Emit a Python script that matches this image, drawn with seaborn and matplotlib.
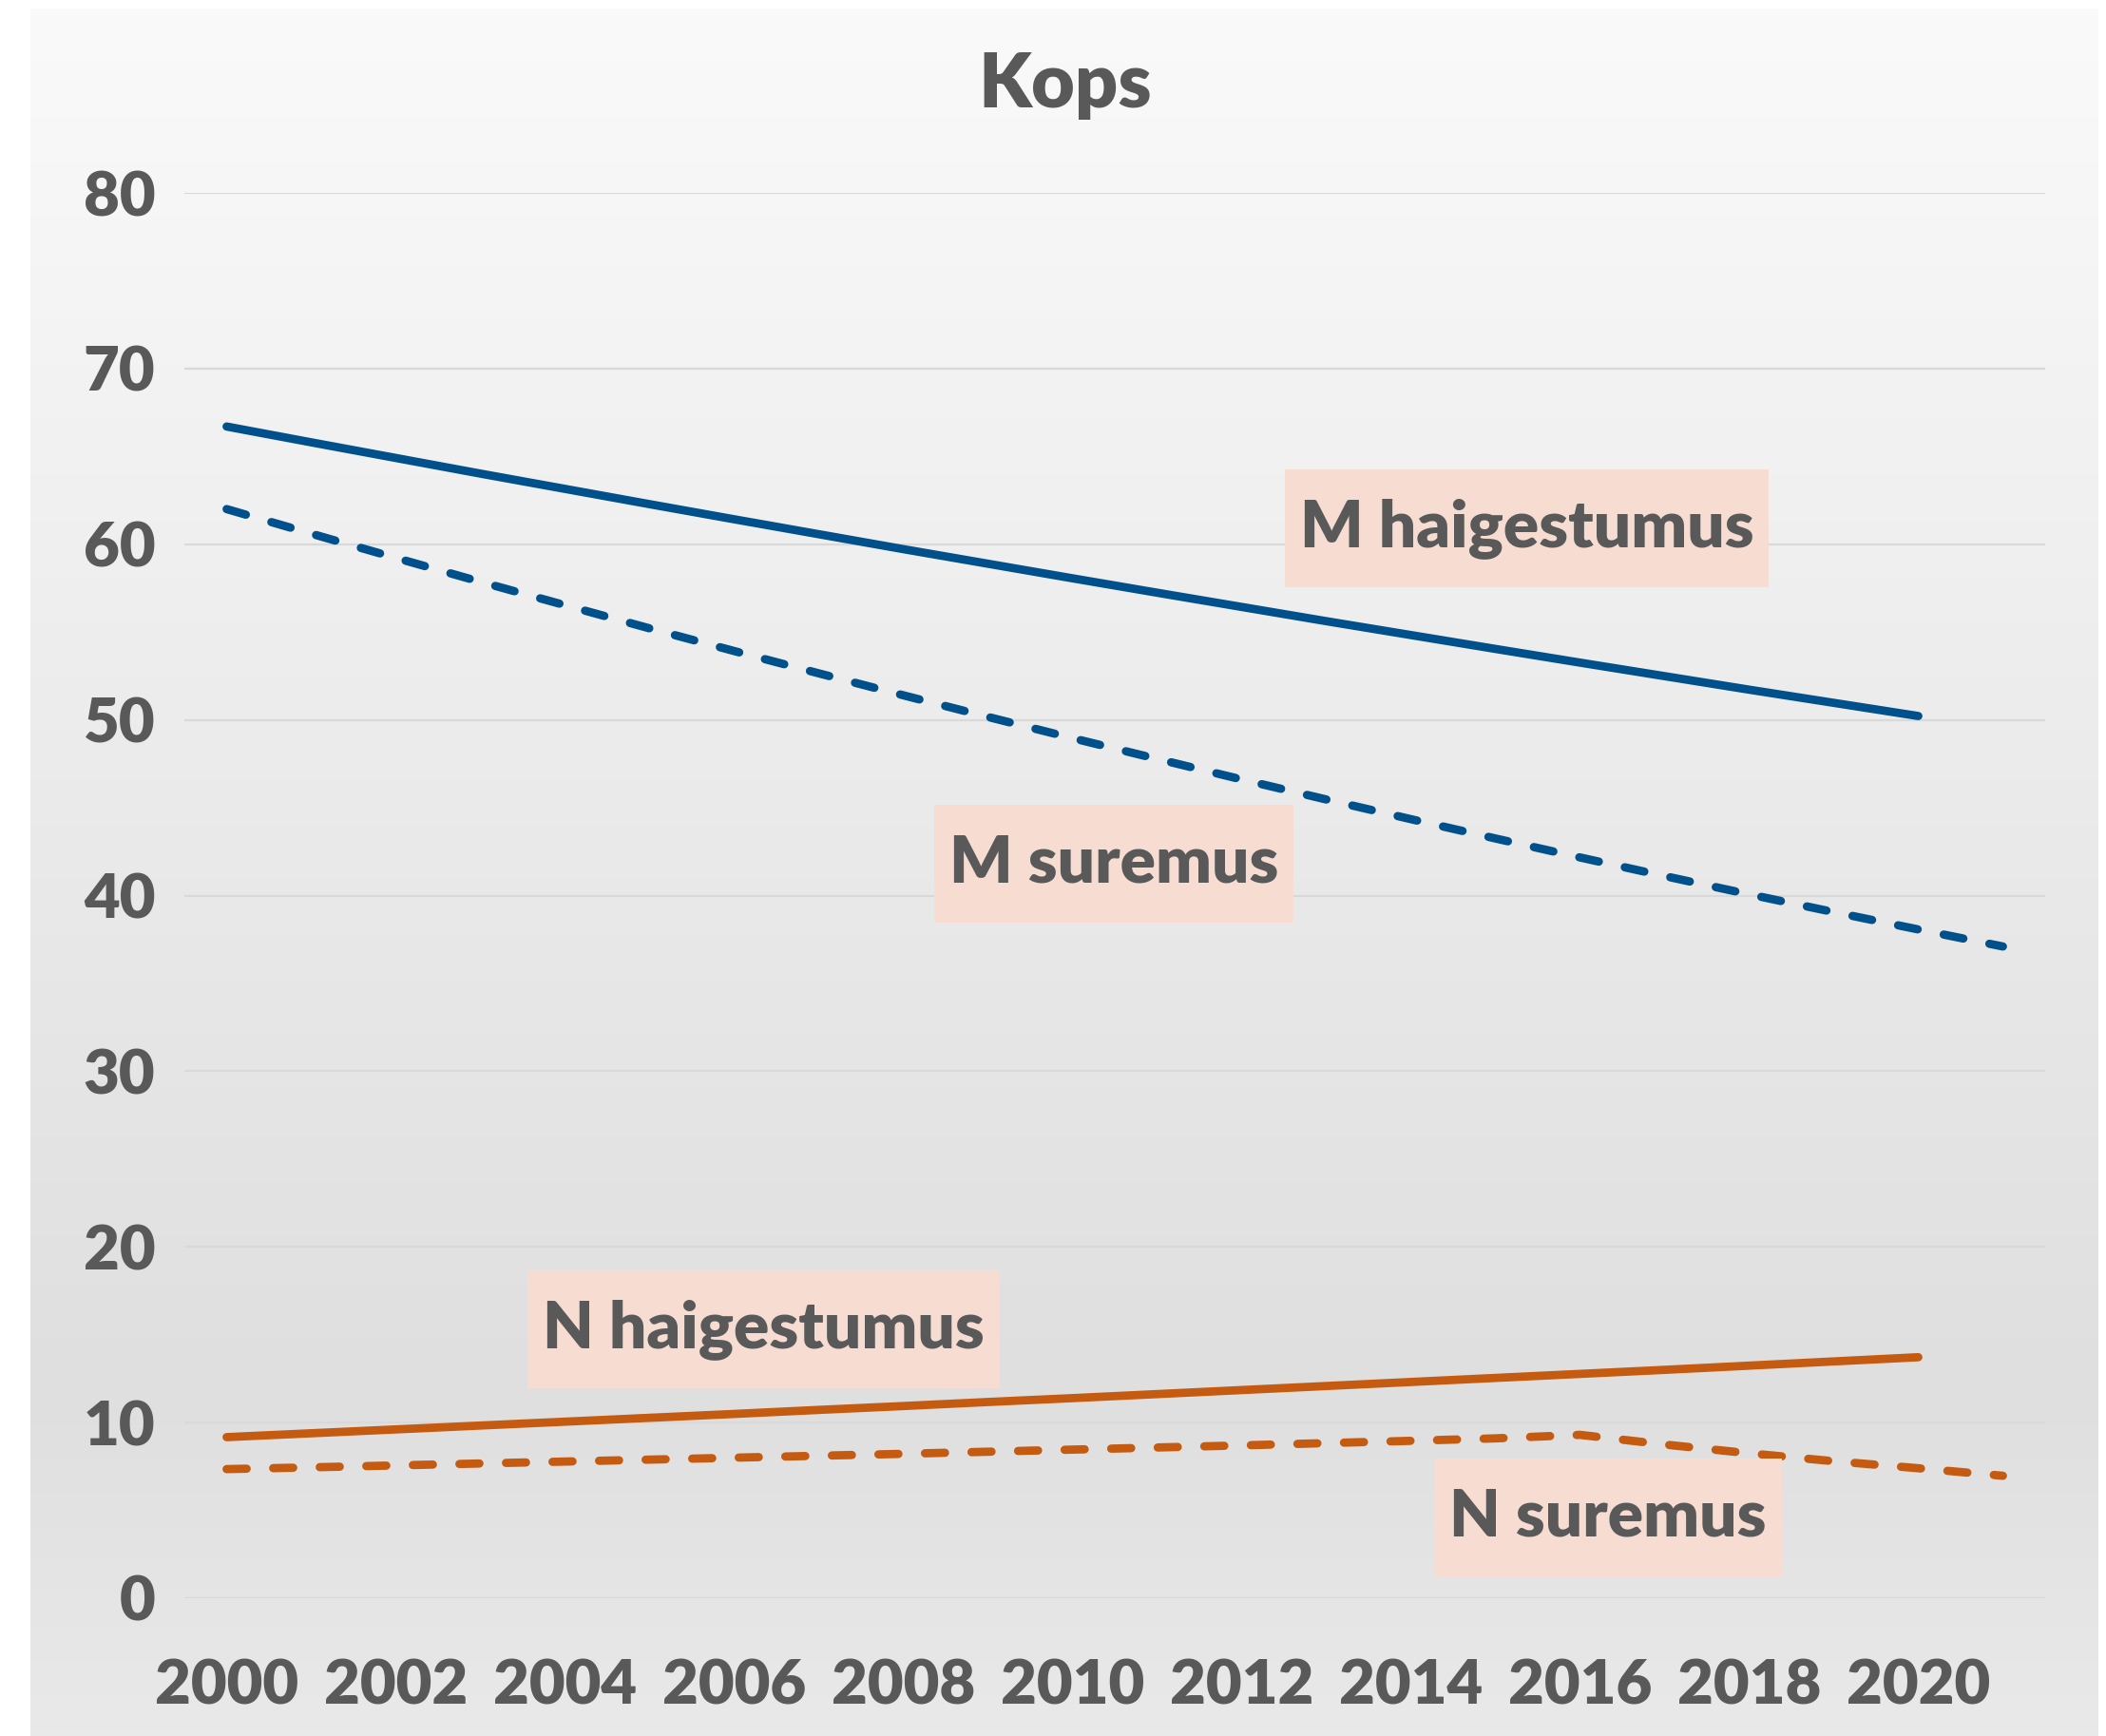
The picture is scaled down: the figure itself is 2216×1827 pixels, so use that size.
import numpy as np
import pandas as pd
import seaborn as sns
import matplotlib
matplotlib.use("Agg")
import matplotlib.pyplot as plt
from matplotlib.colors import LinearSegmentedColormap
from matplotlib.patches import Rectangle

# ---------------- data ----------------
years = list(range(2000, 2022))
m_haig = [66.70, 65.80, 64.91, 64.02, 63.15, 62.28, 61.42, 60.57, 59.72, 58.89, 58.06,
          57.24, 56.43, 55.62, 54.83, 54.04, 53.26, 52.49, 51.72, 50.97, 50.22, None]
m_sur = [62.00, 60.60, 59.22, 57.86, 56.53, 55.21, 53.92, 52.65, 51.40, 50.17, 48.96,
         47.78, 46.61, 45.47, 44.35, 43.25, 42.17, 41.11, 40.07, 39.06, 38.07, 37.10]
n_haig = [9.17, 9.39, 9.61, 9.83, 10.05, 10.27, 10.49, 10.72, 10.94, 11.17, 11.39,
          11.62, 11.85, 12.08, 12.31, 12.54, 12.77, 13.00, 13.24, 13.48, 13.72, None]
n_sur = [7.35, 7.45, 7.56, 7.67, 7.78, 7.89, 8.00, 8.11, 8.22, 8.34, 8.46,
         8.58, 8.70, 8.83, 8.96, 9.10, 9.30, 8.75, 8.25, 7.80, 7.40, 6.97]
series_names = ["M haigestumus", "M suremus", "N haigestumus", "N suremus"]
tick_years = list(range(2000, 2021, 2))
y_ticks = list(range(0, 81, 10))
title = "Kops"

# label placement (annotations)
label_pos = {"M haigestumus": (2015.37, 60.9),
             "M suremus": (2010.49, 41.8),
             "N haigestumus": (2006.35, 15.3),
             "N suremus": (2016.33, 4.6)}

# ---------------- build long table ----------------
rows = []
for name, vals in zip(series_names, [m_haig, m_sur, n_haig, n_sur]):
    for yr, v in zip(years, vals):
        if v is not None:
            rows.append({"year": yr, "value": v, "series": name})
df = pd.DataFrame(rows)

# ---------------- style ----------------
sns.set_theme(style="white")
plt.rcParams['font.family'] = ['Lato', 'DejaVu Sans']
text_color = "#595959"
blue = "#00508c"
orange = "#c55a11"
box_color = "#f6dcd1"
WEIGHT = "heavy"

W, H, DPI = 2216, 1827, 100
fig = plt.figure(figsize=(W / DPI, H / DPI), dpi=DPI)
fig.patch.set_facecolor("white")

# gradient background panel
bg = fig.add_axes([32 / W, 0, (2208 - 32) / W, 1 - 9 / H])
bg.set_zorder(-10)
cmap = LinearSegmentedColormap.from_list(
    "g", [(0.0, "#fafafa"), (0.8, "#dfdfdf"), (1.0, "#e9e9e9")])
grad = np.linspace(0, 1, 512).reshape(-1, 1)
bg.imshow(grad, aspect="auto", cmap=cmap, extent=[0, 1, 0, 1], origin="upper")
bg.axis("off")

ax = fig.add_axes([194 / W, 1 - 1682 / H, (2152 - 194) / W, (1682 - 203) / H])
ax.patch.set_alpha(0)

palette = {"M haigestumus": blue, "M suremus": blue,
           "N haigestumus": orange, "N suremus": orange}
dashes = {"M haigestumus": "", "M suremus": (2.4, 3.2),
          "N haigestumus": "", "N suremus": (2.4, 3.2)}
sns.lineplot(data=df, x="year", y="value", hue="series", style="series",
             palette=palette, dashes=dashes, linewidth=6.3, ax=ax,
             legend=False, hue_order=series_names, style_order=series_names)
for ln in ax.get_lines():
    ln.set_solid_capstyle("round")
    ln.set_dash_capstyle("round")
    ln.set_solid_joinstyle("round")

ax.set_xlim(1999.5, 2021.5)
ax.set_ylim(0, 80)
ax.set_xticks(tick_years)
ax.set_xticklabels([str(t) for t in tick_years])
ax.set_yticks(y_ticks)
ax.set_xlabel("")
ax.set_ylabel("")
ax.yaxis.grid(True, color="#d9d9d9", linewidth=1.6)
ax.xaxis.grid(False)
ax.set_axisbelow(True)
for s in ax.spines.values():
    s.set_visible(False)
ax.tick_params(axis="both", length=0, colors=text_color, labelsize=47)
ax.tick_params(axis="x", pad=46)
ax.tick_params(axis="y", pad=22)
for lab in ax.get_xticklabels() + ax.get_yticklabels():
    lab.set_fontweight(WEIGHT)

texts = []
for name in series_names:
    x, y = label_pos[name]
    t = ax.text(x, y, name, ha="center", va="center", fontsize=50,
                fontweight=WEIGHT, color=text_color, zorder=6)
    texts.append(t)

fig.text(1121 / W, 1 - 90 / H, title, ha="center", va="center",
         fontsize=57, fontweight=WEIGHT, color=text_color)

# label boxes sized around the rendered text (wider horizontally-tight, taller vertically)
fig.canvas.draw()
renderer = fig.canvas.get_renderer()
hpad, box_h = 16, 124
for t in texts:
    bb = t.get_window_extent(renderer)
    cy = (bb.y0 + bb.y1) / 2
    rect = Rectangle((bb.x0 - hpad, cy - box_h / 2), bb.width + 2 * hpad, box_h,
                     transform=None, facecolor=box_color, edgecolor="none",
                     zorder=5)
    ax.add_artist(rect)

fig.savefig("out.png", dpi=DPI)
